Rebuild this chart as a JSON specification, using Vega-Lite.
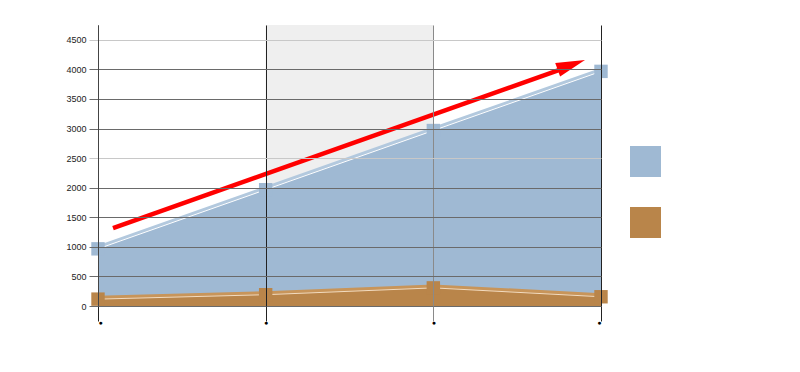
{
  "$schema": "https://vega.github.io/schema/vega-lite/v6.json",
  "width": 503,
  "height": 281,
  "autosize": "none",
  "padding": {"left": 98, "top": 25, "right": 199, "bottom": 66},
  "background": "white",
  "datasets": {
    "series": [
      {"series": "Series 1", "x": 0, "value": 1000},
      {"series": "Series 1", "x": 1, "value": 2000},
      {"series": "Series 1", "x": 2, "value": 3000},
      {"series": "Series 1", "x": 3, "value": 4000},
      {"series": "Series 2", "x": 0, "value": 150},
      {"series": "Series 2", "x": 1, "value": 225},
      {"series": "Series 2", "x": 2, "value": 340},
      {"series": "Series 2", "x": 3, "value": 190}
    ],
    "band": [{"x": 1, "x2": 2, "y": 0, "y2": 4750}],
    "arrow": [{"x": 0.0895, "y": 1318, "x2": 2.79, "y2": 4030, "tipx": 2.823, "tipy": 4076}]
  },
  "config": {
    "view": {"stroke": null},
    "axis": {"labelFont": "Liberation Sans", "titleFont": "Liberation Sans"}
  },
  "layer": [
    {
      "data": {"name": "band"},
      "mark": {"type": "rect", "fill": "#efefef"},
      "encoding": {
        "x": {"field": "x", "type": "quantitative", "scale": {"domain": [0, 3], "nice": false}},
        "x2": {"field": "x2"},
        "y": {"field": "y", "type": "quantitative", "scale": {"domain": [0, 4750], "nice": false}},
        "y2": {"field": "y2"}
      }
    },
    {
      "data": {"name": "series"},
      "transform": [{"filter": "datum.series == 'Series 1'"}],
      "mark": {"type": "area", "opacity": 1, "line": {"stroke": "#b3c9de", "strokeWidth": 3}},
      "encoding": {
        "x": {"field": "x", "type": "quantitative"},
        "y": {"field": "value", "type": "quantitative", "stack": null},
        "color": {"field": "series", "type": "nominal"}
      }
    },
    {
      "data": {"name": "series"},
      "transform": [{"filter": "datum.series == 'Series 1'"}],
      "mark": {"type": "line", "stroke": "white", "strokeWidth": 1, "yOffset": 2},
      "encoding": {
        "x": {"field": "x", "type": "quantitative"},
        "y": {"field": "value", "type": "quantitative"}
      }
    },
    {
      "data": {"name": "series"},
      "transform": [{"filter": "datum.series == 'Series 2'"}],
      "mark": {"type": "area", "opacity": 1, "line": {"stroke": "#c8955a", "strokeWidth": 3}},
      "encoding": {
        "x": {"field": "x", "type": "quantitative"},
        "y": {"field": "value", "type": "quantitative", "stack": null},
        "color": {"field": "series", "type": "nominal"}
      }
    },
    {
      "data": {"name": "series"},
      "transform": [{"filter": "datum.series == 'Series 2'"}],
      "mark": {"type": "line", "stroke": "#f3dcc0", "strokeWidth": 1, "yOffset": 2},
      "encoding": {
        "x": {"field": "x", "type": "quantitative"},
        "y": {"field": "value", "type": "quantitative"}
      }
    },
    {
      "data": {"name": "series"},
      "mark": {"type": "point", "shape": "square", "filled": true, "opacity": 1, "size": 180, "yOffset": 2, "zindex": 2},
      "encoding": {
        "x": {"field": "x", "type": "quantitative"},
        "y": {"field": "value", "type": "quantitative"},
        "color": {
          "field": "series",
          "type": "nominal",
          "scale": {"domain": ["Series 1", "Series 2"], "range": ["#9fb9d3", "#b9854a"]},
          "legend": {
            "orient": "none",
            "legendX": 532,
            "legendY": 121,
            "title": null,
            "symbolType": "square",
            "symbolSize": 961,
            "symbolStrokeWidth": 0,
            "symbolOpacity": 1,
            "labelExpr": "''",
            "labelFontSize": 1,
            "rowPadding": 30,
            "padding": 0
          }
        }
      }
    },
    {
      "data": {"name": "arrow"},
      "mark": {"type": "rule", "stroke": "#ff0000", "strokeWidth": 4.5, "zindex": 2},
      "encoding": {
        "x": {"field": "x", "type": "quantitative"},
        "y": {"field": "y", "type": "quantitative"},
        "x2": {"field": "x2"},
        "y2": {"field": "y2"}
      }
    },
    {
      "data": {"name": "arrow"},
      "mark": {"type": "point", "shape": "M -1 -0.5 L 1 0 L -1 0.5 Z", "filled": true, "fill": "#ff0000", "opacity": 1, "size": 841, "angle": 340.4, "zindex": 2},
      "encoding": {
        "x": {"field": "tipx", "type": "quantitative"},
        "y": {"field": "tipy", "type": "quantitative"}
      }
    }
  ],
  "resolve": {"scale": {"color": "shared"}},
  "encoding": {
    "x": {
      "type": "quantitative",
      "axis": {
        "title": null,
        "zindex": 1,
        "values": [0, 1, 2, 3],
        "domain": false,
        "grid": true,
        "gridColor": {"condition": {"test": "datum.value == 2", "value": "#8a8a8a"}, "value": "#222222"},
        "gridOpacity": 1,
        "tickSize": 15,
        "tickColor": {"condition": {"test": "datum.value == 2", "value": "#8a8a8a"}, "value": "#222222"},
        "labelExpr": "'●'",
        "labelFontSize": 7,
        "labelBaseline": "middle",
        "labelPadding": 1,
        "labelDx": -1.5,
        "labelColor": "#000000"
      }
    },
    "y": {
      "type": "quantitative",
      "axis": {
        "title": null,
        "zindex": 1,
        "format": "d",
        "values": [0, 500, 1000, 1500, 2000, 2500, 3000, 3500, 4000, 4500],
        "domain": true,
        "domainColor": "#444444",
        "grid": true,
        "gridColor": {"condition": {"test": "datum.value == 4500 || datum.value == 2500", "value": "#c8c8c8"}, "value": "#6a6a6a"},
        "gridOpacity": 1,
        "tickSize": 9,
        "tickColor": {"condition": {"test": "datum.value == 4500 || datum.value == 2500", "value": "#c8c8c8"}, "value": "#6a6a6a"},
        "labelFontSize": 9,
        "labelPadding": 3,
        "labelColor": "#222222"
      }
    }
  }
}
